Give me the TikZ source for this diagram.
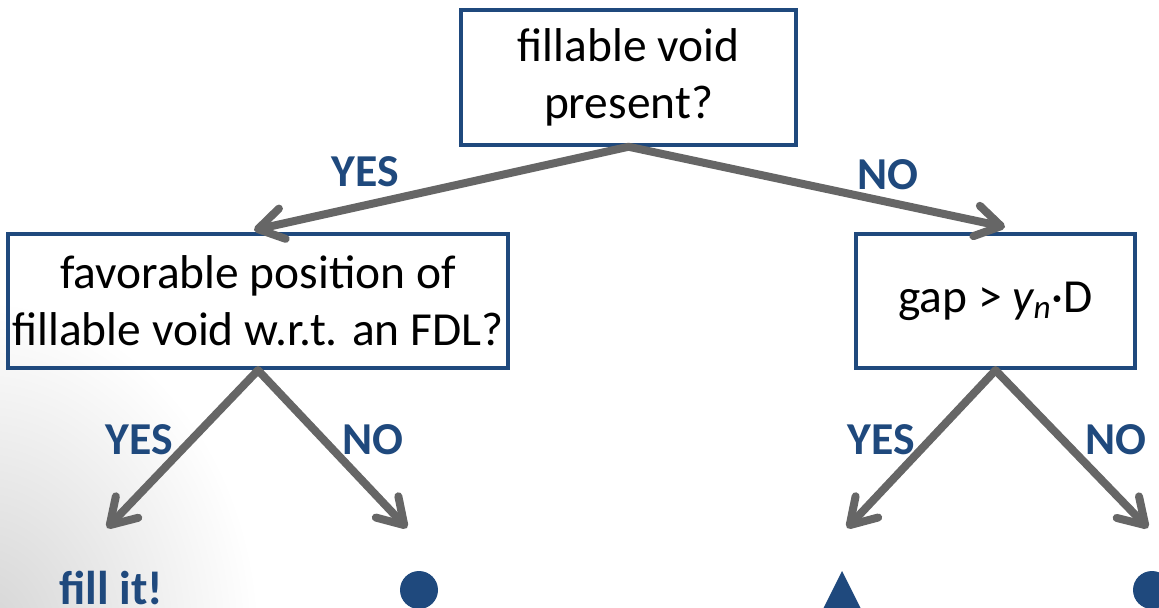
\documentclass[tikz,border=0pt]{standalone}
\usepackage{fontspec}
\setmainfont{Carlito}
\usetikzlibrary{arrows.meta}
\definecolor{boxblue}{RGB}{31,73,125}
\definecolor{arrowgray}{RGB}{102,102,102}
\tikzset{
  question/.style={draw=boxblue, line width=0.08cm, align=center, inner sep=0pt,
    minimum height=2.69cm, font=\fontsize{27}{32.5}\selectfont},
  answer/.style={text=boxblue, inner sep=0pt, font=\fontsize{26}{30}\selectfont\bfseries},
  flow/.style={draw=arrowgray, line width=0.16cm, line cap=round,
    -{Straight Barb[length=0.5cm,width=0.62cm,round]}},
  leaf/.style={circle, fill=boxblue, inner sep=0pt, minimum size=0.76cm}
}
\begin{document}
\begin{tikzpicture}[x=0.02cm,y=-0.02cm]
\useasboundingbox (0,0) rectangle (1159,608);
\clip (0,0) rectangle (1159,608);
\shade[inner color=black!17, outer color=white] (-20,640) ellipse (5.6cm and 6.8cm);
% questions
\node[question, minimum width=6.7cm] (void) at (628.5,77.5) {fillable void\\present?};
\node[question, minimum width=10cm] (fdl) at (258,301) {favorable position of\\fillable void w.r.t. an FDL?};
\node[question, minimum width=5.58cm] (gap) at (995.5,301) {gap > {\itshape y}\textsubscript{\itshape n}·D};
% outcomes
\node[answer, font=\fontsize{27}{30}\selectfont\bfseries] (fill) at (111,588) {fill it!};
\node[leaf] (dotA) at (419,590) {};
\coordinate (tri) at (842,571);
\fill[boxblue] (tri) -- ++(19,38) -- ++(-38,0) -- cycle;
\node[leaf] (dotB) at (1152,590) {};
% arrow ends
\coordinate (yesA) at (254,230);
\coordinate (noA) at (1005,227);
\coordinate (yesB) at (107,528);
\coordinate (noB) at (407,528);
\coordinate (yesC) at (847,528);
\coordinate (noC) at (1148,528);
\foreach \from/\to in {void/yesA, void/noA, fdl/yesB, fdl/noB, gap/yesC, gap/noC}
  \draw[flow] (\from.south) -- (\to);
% labels
\node[answer] (lyesA) at (365,172) {YES};
\node[answer] (lnoA) at (888,175) {NO};
\node[answer] (lyesB) at (139,440) {YES};
\node[answer] (lnoB) at (373,440) {NO};
\node[answer] (lyesC) at (881,440) {YES};
\node[answer] (lnoC) at (1116,440) {NO};
\end{tikzpicture}
\end{document}
